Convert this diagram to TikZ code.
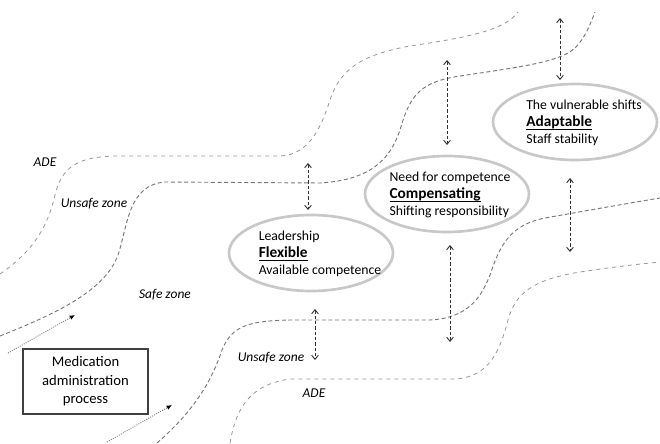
\documentclass[tikz,border=0pt]{standalone}
\usepackage{fontspec}
\setmainfont{Carlito}
\usetikzlibrary{arrows.meta,shapes.geometric}
\definecolor{zonegray}{RGB}{120,120,120}
\definecolor{adegray}{RGB}{150,150,150}
\definecolor{ringgray}{RGB}{200,200,200}

\newcommand{\keyword}[1]{{\fontsize{11.5}{12}\selectfont\bfseries
  \setbox0\hbox{#1}\rlap{\rule[-2.4pt]{\wd0}{0.6pt}}\box0}}

\begin{document}
\begin{tikzpicture}[x=0.75pt,y=-0.75pt,
  adeline/.style={draw=adegray,dashed,line width=0.6pt},
  unsafeline/.style={draw=zonegray,densely dashed,line width=0.7pt},
  flowarrow/.style={draw=zonegray,densely dotted,line width=0.7pt,-{Latex[length=4pt,width=3.5pt,fill=black,color=black]}},
  swing/.style={draw=black!80,dashed,dash pattern=on 2.5pt off 1.5pt,line width=0.7pt,
    {Straight Barb[length=3pt,width=5pt]}-{Straight Barb[length=3pt,width=5pt]}},
  ring/.style={draw=ringgray,line width=2pt,ellipse,minimum width=123pt,minimum height=57pt,inner sep=0pt},
  ringtext/.style={align=left,font=\fontsize{10.3}{12.5}\selectfont,inner sep=0pt},
  zonelabel/.style={font=\fontsize{10.1}{12}\selectfont\itshape,inner sep=0pt}]

  \useasboundingbox (0,0) rectangle (660,443);

  % zone borders, upper side
  \draw[adeline] (0,274) .. controls (35,250) and (48,225) .. (55,195)
    .. controls (62,165) and (80,157) .. (115,156) -- (280,156)
    .. controls (310,155) and (322,125) .. (330,100)
    .. controls (340,70) and (360,55) .. (410,46)
    .. controls (470,37) and (505,30) .. (518,12);
  \draw[unsafeline] (0,336) .. controls (60,312) and (105,290) .. (118,255)
    .. controls (128,225) and (128,185) .. (165,182) -- (320,183)
    .. controls (370,180) and (390,160) .. (400,130)
    .. controls (410,95) and (420,82) .. (460,76)
    .. controls (520,67) and (560,62) .. (575,48)
    .. controls (585,38) and (590,25) .. (595,12);

  % zone borders, lower side
  \draw[unsafeline] (157,443) .. controls (195,410) and (212,380) .. (222,350)
    .. controls (232,325) and (250,321) .. (290,320) -- (430,320)
    .. controls (470,318) and (482,295) .. (490,275)
    .. controls (500,245) and (510,225) .. (545,218)
    .. controls (590,210) and (630,203) .. (660,198);
  \draw[adeline] (230,443) .. controls (235,415) and (245,385) .. (290,379) -- (455,379)
    .. controls (490,377) and (500,350) .. (508,320)
    .. controls (515,295) and (530,280) .. (580,272)
    .. controls (620,266) and (640,264) .. (660,262);

  % zone labels
  \node[zonelabel] (adeup) at (45,162) {ADE};
  \node[zonelabel] (unsafeup) at (94,204) {Unsafe zone};
  \node[zonelabel] (safe) at (165,295) {Safe zone};
  \node[zonelabel] (unsafelow) at (271,358) {Unsafe zone};
  \node[zonelabel] (adelow) at (314,393) {ADE};

  % process box
  \node[draw=black!75,line width=0.8pt,minimum width=93.75pt,minimum height=48.75pt,
    align=center,font=\fontsize{11}{13.9}\selectfont] (process) at (85.5,381.5)
    {Medication\\administration\\process};

  % flow arrows
  \coordinate (flowa) at (8,353);
  \coordinate (flowb) at (75,315);
  \coordinate (flowc) at (107,442);
  \coordinate (flowd) at (172,405);
  \draw[flowarrow] (flowa) -- (flowb);
  \draw[flowarrow] (flowc) -- (flowd);

  % the three strategies
  \node[ring] (flexible) at (311,253) {};
  \node[ringtext] (flextext) at (320,254) {Leadership\\\keyword{Flexible}\\Available competence};
  \node[ring] (compensating) at (447,194) {};
  \node[ringtext] (comptext) at (450,195) {Need for competence\\\keyword{Compensating}\\Shifting responsibility};
  \node[ring] (adaptable) at (575,122) {};
  \node[ringtext] (adapttext) at (584,123) {The vulnerable shifts\\\keyword{Adaptable}\\Staff stability};

  % swings between the zones
  \foreach \name/\x/\ya/\yb in {swa/308/163/210, swb/447/60/145, swc/560/18/80,
                                 swd/570/178/252, swe/450/245/342, swf/315/309/360} {
    \coordinate (\name-top) at (\x,\ya);
    \coordinate (\name-bot) at (\x,\yb);
    \draw[swing] (\name-top) -- (\name-bot);
  }

\end{tikzpicture}
\end{document}
